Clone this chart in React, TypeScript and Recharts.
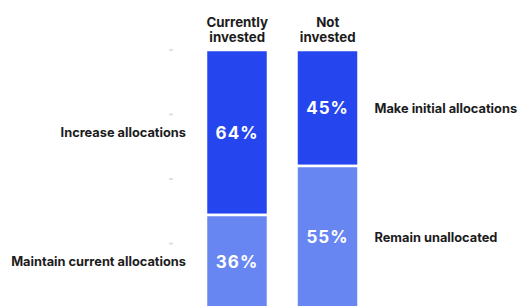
import React from 'react';
import { BarChart, Bar, XAxis, YAxis, LabelList } from 'recharts';

const categories = ['Currently invested', 'Not invested'];
const topValues = [64, 45];
const bottomValues = [36, 55];
const topLabels = ['Increase allocations', 'Make initial allocations'];
const bottomLabels = ['Maintain current allocations', 'Remain unallocated'];
const yTicks = [0, 25, 50, 75, 100];

const data = categories.map((c, i) => ({
  name: c,
  top: topValues[i],
  bottom: bottomValues[i],
  topLabel: topLabels[i],
  bottomLabel: bottomLabels[i],
}));

const FONT = 'Inter, "Noto Sans", sans-serif';

const HeaderTick = (props: any) => {
  const { x, y, payload } = props;
  const words = String(payload.value).split(' ');
  return (
    <text x={x} y={y} textAnchor="middle" fontFamily={FONT} fontWeight={700} fontSize={13.3} fill="#1c1c1c">
      <tspan x={x} dy={-15}>{words[0]}</tspan>
      <tspan x={x} dy={15}>{words.slice(1).join(' ')}</tspan>
    </text>
  );
};

const DotTick = (props: any) => {
  const { x, y } = props;
  return <rect x={x - 15} y={y - 1} width={4} height={2} fill="#e2e2e2" />;
};

const makeLabel = (values: number[], texts: string[]) => (props: any) => {
  const { x, y, width, height, index } = props;
  const cx = x + width / 2;
  const cy = y + height / 2;
  const side = index === 0
    ? <text x={x - 20} y={cy} textAnchor="end" dominantBaseline="central" fontFamily={FONT} fontWeight={700} fontSize={12.8} fill="#1c1c1c">{texts[index]}</text>
    : <text x={x + width + 16} y={cy} textAnchor="start" dominantBaseline="central" fontFamily={FONT} fontWeight={700} fontSize={12.8} fill="#1c1c1c">{texts[index]}</text>;
  return (
    <g>
      <text x={cx} y={cy} textAnchor="middle" dominantBaseline="central" fontFamily={FONT} fontWeight={700} fontSize={17} letterSpacing={1} fill="#ffffff">{values[index]}%</text>
      {side}
    </g>
  );
};

export default function App() {
  return (
    <div style={{ position: 'absolute', left: 0, top: 0, background: '#fff' }}>
      <BarChart width={519} height={320} data={data} margin={{ top: 0, right: 146, bottom: 12, left: 152 }} barSize={62}>
        <XAxis dataKey="name" orientation="top" xAxisId={0} height={50} axisLine={false} tickLine={false} tick={<HeaderTick />} interval={0} />
        <YAxis domain={[0, 100]} ticks={yTicks} width={40} axisLine={false} tickLine={false} tick={<DotTick />} reversed />
        <Bar dataKey="top" stackId="a" fill="#2546EE" stroke="#ffffff" strokeWidth={2.5} isAnimationActive={false}>
          <LabelList dataKey="top" content={makeLabel(topValues, topLabels)} />
        </Bar>
        <Bar dataKey="bottom" stackId="a" fill="#6886F2" stroke="#ffffff" strokeWidth={2.5} isAnimationActive={false}>
          <LabelList dataKey="bottom" content={makeLabel(bottomValues, bottomLabels)} />
        </Bar>
      </BarChart>
    </div>
  );
}
